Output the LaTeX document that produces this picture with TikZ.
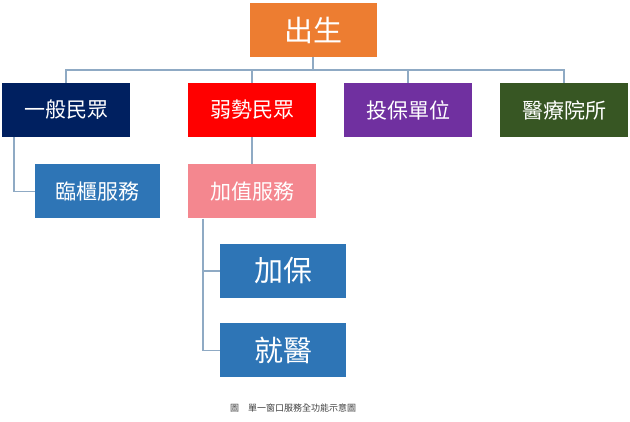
\documentclass[tikz,border=0pt]{standalone}
\usepackage{fontspec}
\newfontfamily\cjk{Noto Sans CJK TC}
\definecolor{corange}{HTML}{ED7D31}
\definecolor{cnavy}{HTML}{002060}
\definecolor{cred}{HTML}{FF0000}
\definecolor{cpurple}{HTML}{7030A0}
\definecolor{cgreen}{HTML}{375623}
\definecolor{cblue}{HTML}{2E75B6}
\definecolor{cpink}{HTML}{F4878F}
\definecolor{cline}{HTML}{8FAAC4}
\tikzset{
 box/.style={minimum width=127pt,minimum height=54pt,inner sep=0pt,text=white,font=\cjk\fontsize{21}{24}\selectfont},
 big/.style={box,font=\cjk\fontsize{29}{32}\selectfont},
 ln/.style={draw=cline,line width=1.6pt}
}
\begin{document}
\begin{tikzpicture}[x=1pt,y=-1pt]
\useasboundingbox[fill=white] (0,0) rectangle (630,422);
\node[big,fill=corange] (birth) at (313,30) {出生};
\node[box,fill=cnavy,minimum width=128pt] (a) at (66,110) {一般民眾};
\node[box,fill=cred,minimum width=128pt] (b) at (252,110) {弱勢民眾};
\node[box,fill=cpurple,minimum width=128pt] (c) at (408,110) {投保單位};
\node[box,fill=cgreen,minimum width=128pt] (d) at (564,110) {醫療院所};
\node[box,fill=cblue,minimum width=125pt] (e) at (97.5,191.5) {臨櫃服務};
\node[box,fill=cpink,minimum width=128pt] (f) at (252,191.5) {加值服務};
\node[big,fill=cblue,minimum width=126pt] (g) at (283,271) {加保};
\node[big,fill=cblue,minimum width=126pt] (h) at (283,350.5) {就醫};
\coordinate (hl) at (66,70);
\coordinate (hr) at (564,70);
\draw[ln] (birth.south) -- (313,70);
\draw[ln] (a.north) -- (hl) -- (hr) -- (d.north);
\draw[ln] (b.north) -- (252,70);
\draw[ln] (c.north) -- (408,70);
\draw[ln] (a.south -| 14,0) -- (14,191.5) -- (e.west);
\draw[ln] (b.south) -- (f.north);
\draw[ln] (f.south -| 203,0) -- (203,350.5) -- (h.west);
\draw[ln] (203,271) -- (g.west);
\node[font=\cjk\fontsize{9}{11}\selectfont,text=black!75] (cap) at (293,408) {圖\quad 單一窗口服務全功能示意圖};
\end{tikzpicture}
\end{document}
